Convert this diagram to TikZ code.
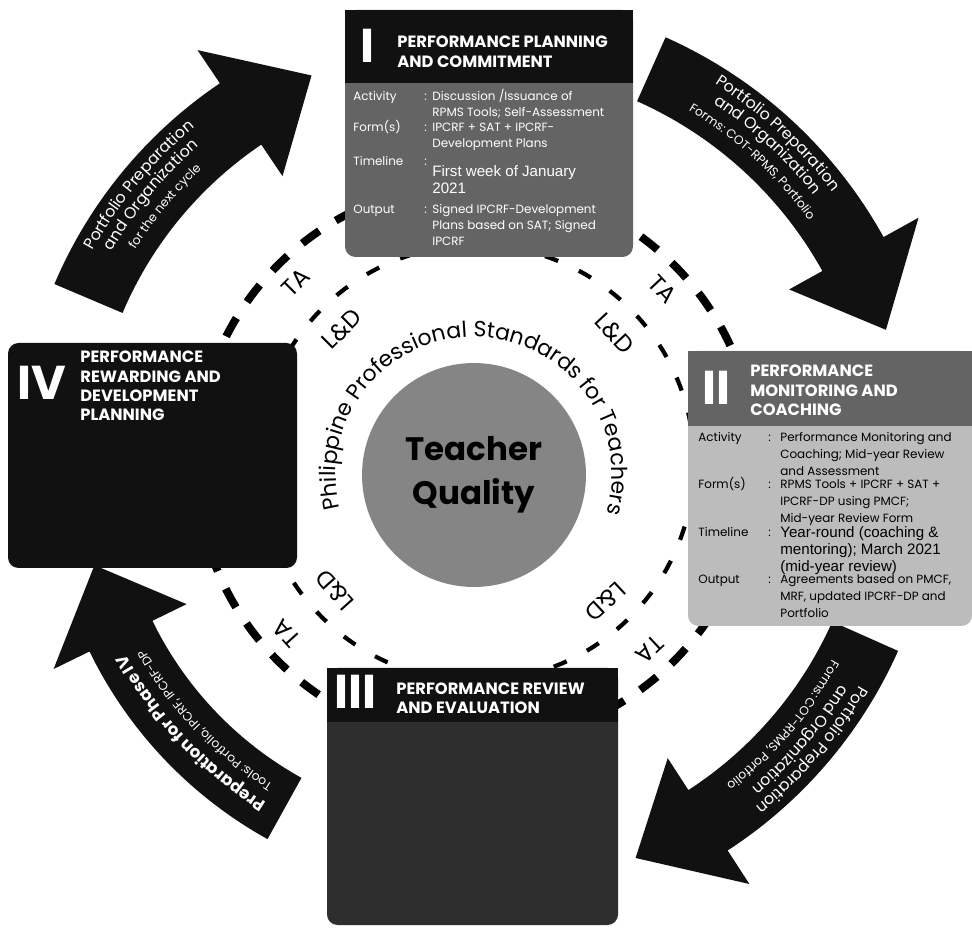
\documentclass[tikz,border=0pt]{standalone}
\usepackage{fontspec}
\setmainfont{Poppins}
\newfontfamily\narrowfont{Liberation Sans}
\usetikzlibrary{decorations.text}

\definecolor{phaseblack}{HTML}{111111}
\definecolor{phasegray}{HTML}{646464}
\definecolor{phaselight}{HTML}{BCBCBC}
\definecolor{phasedark}{HTML}{2E2E2E}
\definecolor{coregray}{HTML}{858585}

\newcommand\rowfont{\fontsize{6.8}{9}\selectfont}
\newcommand\rowfontb{\fontsize{6.8}{9.6}\selectfont}
\newcommand\timefont{\narrowfont\fontsize{8.6}{9.4}\selectfont}
\newcommand\arrowbig{\fontsize{9}{9}\selectfont}
\newcommand\arrowsmall{\fontsize{7}{7}\selectfont}
% lines stacked under the first baseline
\newcommand\rowlines[1]{\begin{tabular}[t]{@{}l@{}}#1\end{tabular}}

\tikzset{
  arrowfill/.style={fill=phaseblack},
  numeral/.style={anchor=base west, inner sep=0, text=white, font=\fontsize{27}{27}\selectfont\bfseries},
  phasetitle/.style={anchor=base west, inner sep=0, text=white, font=\fontsize{9.3}{11}\selectfont\bfseries},
  rowkey/.style={anchor=base west, inner sep=0, font=\rowfont},
  rowval/.style={anchor=base west, inner sep=0},
  ringlabel/.style={inner sep=0, font=\fontsize{13.5}{13.5}\selectfont},
  outerdash/.style={line width=4.5pt, dash pattern=on 12pt off 11pt},
  innerdash/.style={line width=2.4pt, dash pattern=on 8pt off 13pt},
}

% curved arrow round the ring: tail, head base, tip angle, inner and outer radius
\newcommand\cyclearrow[5]{%
  \fill[arrowfill] (#1:#4) arc[start angle=#1, end angle=#2, radius=#4]
    -- (#2:#4-38) -- (#3:#4/2+#5/2) -- (#2:#5+40) -- (#2:#5)
    arc[start angle=#2, end angle=#1, radius=#5] -- cycle;}
% one line of white text along an arrow
\newcommand\arrowline[4]{%
  \path[decorate, decoration={text along path, text align=center,
    text color=white, text={#4}}]
    (#1:#3) arc[start angle=#1, end angle=#2, radius=#3];}

\begin{document}
\begin{tikzpicture}[x=0.02cm, y=0.02cm]
\fill[white] (0,0) rectangle (972,929);
\useasboundingbox (0,0) rectangle (972,929);

\coordinate (R) at (476,466);
\coordinate (Q) at (474,454);

% dashed rings and their labels
\begin{scope}[shift={(R)}]
  \draw[outerdash] (0,0) circle[radius=280];
  \draw[innerdash] (0,0) circle[radius=218];
  \foreach \a/\n in {135/tl, 43/tr, 222/bl, -47/br} {
    \node[ringlabel, rotate=\a-90] (ta\n) at (\a:255) {TA};
    \node[ringlabel, rotate=\a-90] (ld\n) at (\a:190) {L\&D};
  }

  % arrows
  \cyclearrow{66}{29}{18}{396}{466}
  \cyclearrow{-24}{-57}{-68}{390}{462}
  \cyclearrow{241}{206}{195}{360}{430}
  \cyclearrow{157}{124}{113}{384}{458}

  \arrowline{66}{29}{448}{|\arrowbig|Portfolio Preparation}
  \arrowline{66}{29}{431}{|\arrowbig|and Organization}
  \arrowline{66}{29}{412}{|\arrowsmall|Forms: COT-RPMS, Portfolio}

  \arrowline{-24}{-57}{443}{|\arrowbig|Portfolio Preparation}
  \arrowline{-24}{-57}{426}{|\arrowbig|and Organization}
  \arrowline{-24}{-57}{407}{|\arrowsmall|Forms: COT-RPMS, Portfolio}

  \arrowline{241}{206}{399}{|\fontsize{9.5}{9.5}\selectfont\bfseries|Preparation for Phase IV}
  \arrowline{241}{206}{380}{|\arrowsmall|Tools: Portfolio, IPCRF, IPCRF-DP}

  \arrowline{157}{124}{438}{|\arrowbig|Portfolio Preparation}
  \arrowline{157}{124}{421}{|\arrowbig|and Organization}
  \arrowline{157}{124}{402}{|\arrowsmall|for the next cycle}
\end{scope}

% core
\node[circle, fill=coregray, minimum size=4.48cm, inner sep=0, align=center,
  font=\fontsize{18.5}{25}\selectfont\bfseries] (core) at (Q) {Teacher\\Quality};
\begin{scope}[shift={(Q)}]
  \path[decorate, decoration={text along path, text align=center,
    text={|\fontsize{12.5}{12.5}\selectfont|Philippine Professional Standards for Teachers}}]
    (200:138) arc[start angle=200, end angle=-22, radius=138];
\end{scope}

% phase I
\fill[phasegray, rounded corners=6] (345,672) rectangle (633,919);
\fill[phaseblack] (345,846) rectangle (633,919);
\node[numeral] (num1) at (360,866) {I};
\node[phasetitle] (title1) at (397,881) {\rowlines{PERFORMANCE PLANNING\\AND COMMITMENT}};
\begin{scope}[text=white]
  \node[rowkey] (key1a) at (353,828) {Activity};
  \node[rowkey] (key1b) at (353,797) {Form(s)};
  \node[rowkey] (key1c) at (353,763) {Timeline};
  \node[rowkey] (key1d) at (353,715) {Output};
  \foreach \y/\n in {828/a, 797/b, 763/c, 715/d}
    \node[rowkey] (col1\n) at (424,\y) {:};
  \node[rowval, font=\rowfont] (val1a) at (432,828) {\rowlines{Discussion /Issuance of\\RPMS Tools; Self-Assessment}};
  \node[rowval, font=\rowfont] (val1b) at (432,797) {\rowlines{IPCRF + SAT + IPCRF-\\Development Plans}};
  \node[rowval, font=\timefont] (val1c) at (432,752) {\rowlines{First week of January\\2021}};
  \node[rowval, font=\rowfont] (val1d) at (432,715) {\rowlines{Signed IPCRF-Development\\Plans based on SAT; Signed\\IPCRF}};
\end{scope}

% phase II
\fill[phaselight, rounded corners=6] (688,303) rectangle (972,578);
\fill[phasegray] (688,503) rectangle (972,578);
\node[numeral] (num2) at (702,524) {II};
\node[phasetitle] (title2) at (750,552) {\rowlines{PERFORMANCE\\MONITORING AND\\COACHING}};
\begin{scope}[text=black]
  \node[rowkey] (key2a) at (698,487) {Activity};
  \node[rowkey] (key2b) at (698,440) {Form(s)};
  \node[rowkey] (key2c) at (698,392) {Timeline};
  \node[rowkey] (key2d) at (698,345) {Output};
  \foreach \y/\n in {487/a, 440/b, 392/c, 345/d}
    \node[rowkey] (col2\n) at (768,\y) {:};
  \node[rowval, font=\rowfontb] (val2a) at (780,487) {\rowlines{Performance Monitoring and\\Coaching; Mid-year Review\\and Assessment}};
  \node[rowval, font=\rowfontb] (val2b) at (780,440) {\rowlines{RPMS Tools + IPCRF + SAT +\\IPCRF-DP using PMCF;\\Mid-year Review Form}};
  \node[rowval, font=\timefont] (val2c) at (780,391) {\rowlines{Year-round (coaching \&\\mentoring); March 2021\\(mid-year review)}};
  \node[rowval, font=\rowfontb] (val2d) at (780,345) {\rowlines{Agreements based on PMCF,\\MRF, updated IPCRF-DP and\\Portfolio}};
\end{scope}

% phase III
\fill[phasedark, rounded corners=6] (327,4) rectangle (618,261);
\fill[phaseblack] (327,207) rectangle (618,261);
\node[numeral] (num3) at (334,220) {III};
\node[phasetitle] (title3) at (396,235) {\rowlines{PERFORMANCE REVIEW\\AND EVALUATION}};

% phase IV
\fill[phaseblack, rounded corners=6] (8,361) rectangle (297,586);
\node[numeral] (num4) at (17,529) {IV};
\node[phasetitle] (title4) at (80,566) {\rowlines{PERFORMANCE\\REWARDING AND\\DEVELOPMENT\\PLANNING}};

\end{tikzpicture}
\end{document}
